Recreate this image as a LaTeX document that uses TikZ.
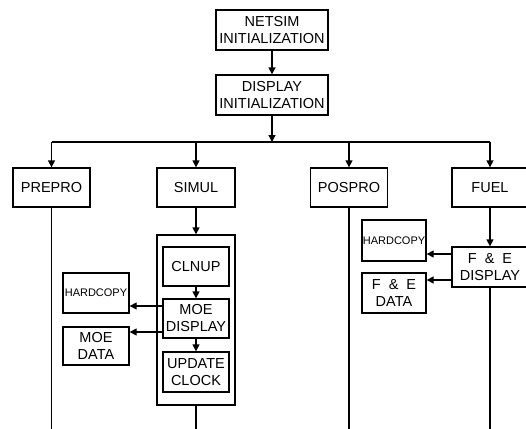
\documentclass[tikz,border=0pt]{standalone}
\usepackage{fontspec}
\setmainfont{Liberation Sans}
\usetikzlibrary{arrows.meta}
\begin{document}
\begin{tikzpicture}[x=1pt,y=-1pt,
  box/.style={draw,line width=1.3pt,align=center,inner sep=0pt,font=\fontsize{14.5}{17}\selectfont},
  smallbox/.style={box,font=\fontsize{11}{13}\selectfont},
  ln/.style={line width=1.3pt},
  arr/.style={ln,-{Triangle[length=7pt,width=7pt]}}]
\useasboundingbox (0,0) rectangle (526,428);
\node[box,minimum width=112pt,minimum height=40pt] (netsim) at (272,30) {NETSIM\\INITIALIZATION};
\node[box,minimum width=112pt,minimum height=40pt] (dinit) at (272,95) {DISPLAY\\INITIALIZATION};
\coordinate (bus) at (272,142);
\coordinate (bot) at (0,429);
\node[box,minimum width=77pt,minimum height=39pt] (prepro) at (51.5,187.5) {PREPRO};
\node[box,minimum width=78pt,minimum height=39pt] (simul) at (196,187.5) {SIMUL};
\node[box,minimum width=77pt,minimum height=39pt] (pospro) at (349,187.5) {POSPRO};
\node[box,minimum width=76pt,minimum height=39pt] (fuel) at (490,187.5) {FUEL};
% SIMUL container
\node[draw,line width=1.3pt,minimum width=78pt,minimum height=170pt,inner sep=0pt] (cont) at (196,320) {};
\node[box,minimum width=66pt,minimum height=39pt] (clnup) at (196,266.5) {CLNUP};
\node[box,minimum width=66pt,minimum height=39pt] (moe) at (196,318.5) {MOE\\DISPLAY};
\node[box,minimum width=66pt,minimum height=40pt] (upd) at (196,372) {UPDATE\\CLOCK};
\node[smallbox,minimum width=66pt,minimum height=40pt] (hc1) at (96,293) {HARDCOPY};
\node[box,minimum width=66pt,minimum height=38pt] (moedata) at (96,346) {MOE\\DATA};
% FUEL side
\node[smallbox,minimum width=64pt,minimum height=41pt] (hc2) at (394,240.5) {HARDCOPY};
\node[box,minimum width=64pt,minimum height=40pt] (fedata) at (394,293) {F\ \ \&\ \ E\\DATA};
\node[box,minimum width=76pt,minimum height=40pt] (fedisp) at (490,267) {F\ \ \&\ \ E\\DISPLAY};
% connectors
\draw[arr] (netsim) -- (dinit);
\draw[arr] (dinit) -- (bus);
\draw[ln] (prepro.north |- bus) -- (fuel.north |- bus);
\draw[arr] (prepro.north |- bus) -- (prepro.north);
\draw[arr] (simul.north |- bus) -- (simul.north);
\draw[arr] (pospro.north |- bus) -- (pospro.north);
\draw[arr] (fuel.north |- bus) -- (fuel.north);
\draw[ln] (prepro.south) -- (prepro.south |- bot);
\draw[ln] (pospro.south) -- (pospro.south |- bot);
\draw[arr] (simul.south) -- (cont.north);
\draw[ln] (cont.south) -- (cont.south |- bot);
\draw[arr] (clnup) -- (moe);
\draw[arr] (moe) -- (upd);
\draw[arr] ([yshift=12.5pt]moe.west) -- ([yshift=12.5pt]moe.west -| hc1.east);
\draw[arr] ([yshift=-13.5pt]moe.west) -- ([yshift=-13.5pt]moe.west -| moedata.east);
\draw[arr] (fuel) -- (fedisp);
\draw[arr] ([yshift=13pt]fedisp.west) -- ([yshift=13pt]fedisp.west -| hc2.east);
\draw[arr] ([yshift=-13pt]fedisp.west) -- ([yshift=-13pt]fedisp.west -| fedata.east);
\draw[ln] (fedisp.south) -- (fedisp.south |- bot);
\end{tikzpicture}
\end{document}
